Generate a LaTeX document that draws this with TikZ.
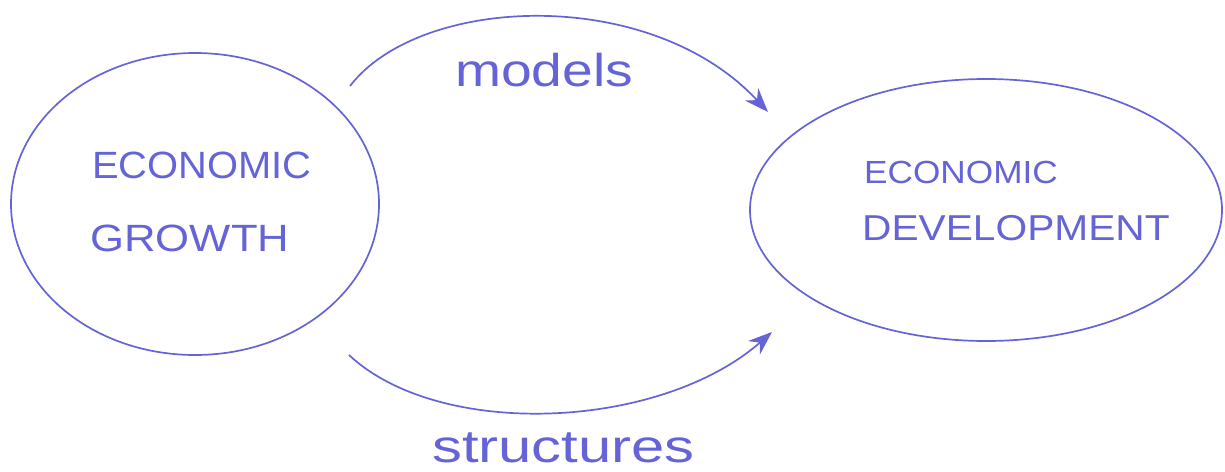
\documentclass[tikz,border=0pt]{standalone}
\usepackage{fontspec}
\setmainfont{Liberation Sans}
\usetikzlibrary{shapes.geometric,arrows.meta}
\definecolor{pen}{RGB}{100,100,215}
\tikzset{
  bubble/.style={draw=pen, line width=1.7pt, ellipse, inner sep=0pt},
  label/.style={text=pen, inner sep=0pt, font=#1},
  conn/.style={draw=pen, line width=1.7pt, -{Stealth[length=24pt,width=18pt]}},
}
\begin{document}
\begin{tikzpicture}[x=1pt,y=-1pt]
\useasboundingbox (0,0) rectangle (1225,471);
\node[bubble, minimum width=368pt, minimum height=302pt] (gL) at (195,204) {};
\node[bubble, minimum width=472pt, minimum height=262pt] (dR) at (986,210) {};
\node[label={\fontsize{38}{40}\selectfont}, anchor=west] (t1) at (92,165) {\scalebox{1.05}[1]{ECONOMIC}};
\node[label={\fontsize{38}{40}\selectfont}, anchor=west] (t2) at (90,238) {\scalebox{1.15}[1]{GROWTH}};
\node[label={\fontsize{32}{36}\selectfont}, anchor=west] (t3) at (864,172) {\scalebox{1.1}[1]{ECONOMIC}};
\node[label={\fontsize{36}{40}\selectfont}, anchor=west] (t4) at (862,228) {\scalebox{1.13}[1]{DEVELOPMENT}};
\coordinate (s1) at (350,86);
\coordinate (e1) at (768,112);
\coordinate (s2) at (349,355);
\coordinate (e2) at (772,332);
\draw[conn] (s1) .. controls (420,-5) and (650,-15) .. (e1);
\draw[conn] (s2) .. controls (440,440) and (660,430) .. (e2);
\node[label={\fontsize{46}{50}\selectfont}, anchor=base west] (m) at (455,86) {\scalebox{1.2}[1]{models}};
\node[label={\fontsize{46}{50}\selectfont}, anchor=base west] (s) at (432,462) {\scalebox{1.3}[1]{structures}};
\end{tikzpicture}
\end{document}
